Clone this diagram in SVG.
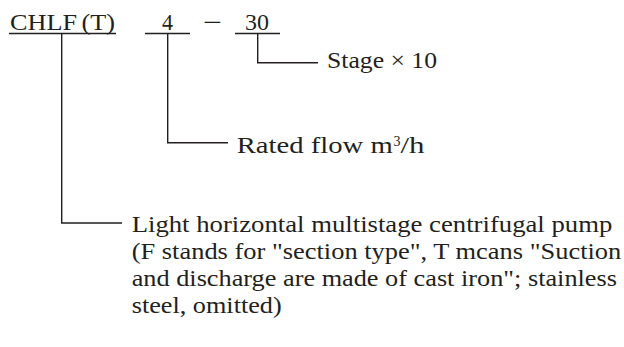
<svg xmlns="http://www.w3.org/2000/svg" width="624" height="347" viewBox="0 0 624 347">
<style>
text{font-family:"Liberation Serif","Times New Roman",serif;font-size:23px;fill:#231f20}
.ln{stroke:#231f20;stroke-width:1.4;fill:none}
</style>
<rect width="624" height="347" fill="#fff"/>
<g id="code">
<text x="10" y="30" textLength="105" lengthAdjust="spacingAndGlyphs">CHLF<tspan dx="4">(T)</tspan></text>
<text x="162" y="30" textLength="11" lengthAdjust="spacingAndGlyphs">4</text>
<text x="203" y="30" textLength="19" lengthAdjust="spacingAndGlyphs">−</text>
<text x="245" y="30" textLength="24" lengthAdjust="spacingAndGlyphs">30</text>
</g>
<g id="connectors">
<path class="ln" d="M9 33.5H116M145 33.5H190M235 33.5H280"/>
<path class="ln" d="M61.7 33.5V223H122"/>
<path class="ln" d="M167.7 33.5V142.7H228"/>
<path class="ln" d="M257.7 33.5V62.7H318"/>
</g>
<g id="stage"><text x="327" y="68.3" textLength="110" lengthAdjust="spacingAndGlyphs">Stage × 10</text></g>
<g id="flow">
<text x="236.7" y="153.3" textLength="156" lengthAdjust="spacingAndGlyphs">Rated flow m</text>
<text x="393.5" y="146" style="font-size:14px">3</text>
<text x="400.5" y="153.3" textLength="24" lengthAdjust="spacingAndGlyphs">/h</text>
</g>
<g id="desc">
<text x="131.7" y="232" textLength="480.6" lengthAdjust="spacingAndGlyphs">Light horizontal multistage centrifugal pump</text>
<text x="131.7" y="259" textLength="489.6" lengthAdjust="spacingAndGlyphs">(F stands for "section type", T mcans "Suction</text>
<text x="131.7" y="286" textLength="485.3" lengthAdjust="spacingAndGlyphs">and discharge are made of cast iron"; stainless</text>
<text x="131.7" y="313" textLength="150" lengthAdjust="spacingAndGlyphs">steel, omitted)</text>
</g>
</svg>
